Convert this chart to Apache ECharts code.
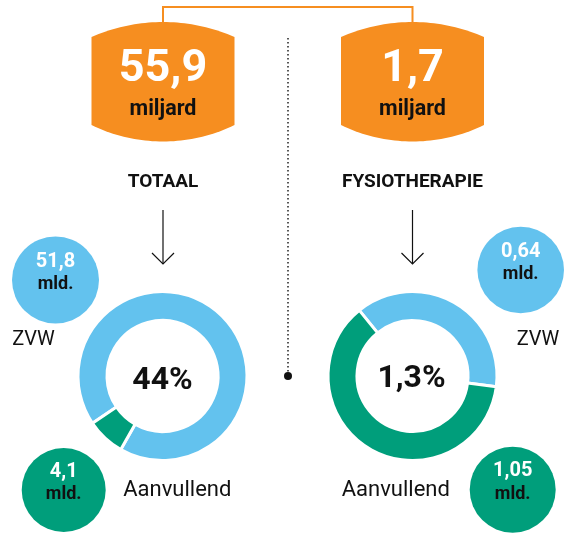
<!DOCTYPE html>
<html>
<head>
<meta charset="utf-8">
<script src="https://cdn.jsdelivr.net/npm/echarts@6/dist/echarts.min.js"></script>
<style>
html,body{margin:0;padding:0;background:#fff;}
#chart{width:565px;height:541px;}
</style>
</head>
<body>
<div id="chart"></div>
<script>
// ---- data ----
const categories = ['ZVW', 'Aanvullend'];
const totalValues = [51.8, 4.1];
const fysioValues = [0.64, 1.05];
const headlineValues = ['55,9', '1,7'];
const headlineUnit = 'miljard';
const titles = ['TOTAAL', 'FYSIOTHERAPIE'];
const centerPercent = ['44%', '1,3%'];
const bubbleLabels = [['51,8', '4,1'], ['0,64', '1,05']];
const bubbleUnit = 'mld.';

// ---- style ----
const BLUE = '#63C2EE';
const GREEN = '#009E7B';
const ORANGE = '#F68E20';
const INK = '#111111';
const FONT = 'Roboto, "Noto Sans", sans-serif';

const chart = echarts.init(document.getElementById('chart'), null, {renderer: 'canvas'});

const colX = [163, 412.5];
const pieY = 376;

function boxPoints(cx) {
  const hw = 71.5, topC = 37, topA = 22, botC = 125, botA = 141.5;
  const pts = [];
  const sT = topC - topA, RT = (hw * hw + sT * sT) / (2 * sT);
  const sB = botA - botC, RB = (hw * hw + sB * sB) / (2 * sB);
  const N = 40;
  for (let i = 0; i <= N; i++) {
    const x = -hw + 2 * hw * i / N;
    const y = topA + (RT - Math.sqrt(RT * RT - x * x));
    pts.push([cx + x, y]);
  }
  for (let i = 0; i <= N; i++) {
    const x = hw - 2 * hw * i / N;
    const y = botA - (RB - Math.sqrt(RB * RB - x * x));
    pts.push([cx + x, y]);
  }
  return pts;
}

function txt(text, x, y, size, weight, fill) {
  return {
    type: 'text', silent: true, z: 10,
    style: {
      text: text, x: x, y: y, fill: fill,
      font: weight + ' ' + size + 'px ' + FONT,
      textAlign: 'center', textVerticalAlign: 'middle', verticalAlign: 'middle'
    }
  };
}

const graphics = [];
// connector
graphics.push({
  type: 'polyline', silent: true,
  shape: {points: [[colX[0], 24], [colX[0], 7], [colX[1], 7], [colX[1], 24]]},
  style: {stroke: ORANGE, lineWidth: 2, fill: null}
});
// dotted divider
graphics.push({
  type: 'line', silent: true,
  shape: {x1: 288, y1: 38, x2: 288, y2: 372},
  style: {stroke: INK, lineWidth: 1.4, lineDash: [1.4, 2.6]}
});
graphics.push({type: 'circle', silent: true, shape: {cx: 288, cy: 376, r: 4}, style: {fill: INK}});

for (let k = 0; k < 2; k++) {
  const cx = colX[k];
  graphics.push({type: 'polygon', silent: true, shape: {points: boxPoints(cx)}, style: {fill: ORANGE}});
  graphics.push(txt(headlineValues[k], cx, 70, 45, 'bold', '#ffffff'));
  graphics.push(txt(headlineUnit, cx, 109.5, 21.5, 'bold', INK));
  graphics.push(txt(titles[k], cx, 182, 19, 'bold', INK));
  // arrow
  graphics.push({type: 'line', silent: true, shape: {x1: cx, y1: 210, x2: cx, y2: 264}, style: {stroke: INK, lineWidth: 1.2}});
  graphics.push({type: 'polyline', silent: true, shape: {points: [[cx - 11, 253], [cx, 264], [cx + 11, 253]]}, style: {stroke: INK, lineWidth: 1.2, fill: null}});
  graphics.push(txt(centerPercent[k], k === 0 ? 162.5 : 411.5, k === 0 ? 380.5 : 378.5, 32, 'bold', INK));
}

// bubbles
const bubbles = [
  {cx: 55.5, cy: 280, r: 43.5, color: BLUE, label: bubbleLabels[0][0]},
  {cx: 63.7, cy: 490, r: 42, color: GREEN, label: bubbleLabels[0][1]},
  {cx: 520.7, cy: 270, r: 43.3, color: BLUE, label: bubbleLabels[1][0]},
  {cx: 512.7, cy: 489.7, r: 43, color: GREEN, label: bubbleLabels[1][1]}
];
bubbles.forEach(b => {
  graphics.push({type: 'circle', silent: true, shape: {cx: b.cx, cy: b.cy, r: b.r}, style: {fill: b.color}});
  graphics.push(txt(b.label, b.cx, b.cy - 18.5, 20, 'bold', '#ffffff'));
  graphics.push(txt(bubbleUnit, b.cx, b.cy + 4.5, 18, 'bold', INK));
});

// category labels
graphics.push(txt(categories[0], 33.5, 339.5, 20, 'normal', INK));
graphics.push(txt(categories[1], 177.3, 490.5, 22, 'normal', INK));
graphics.push(txt(categories[0], 538, 339.5, 20, 'normal', INK));
graphics.push(txt(categories[1], 395.8, 490.5, 22, 'normal', INK));

function pieSeries(values, cx, startAngle) {
  return {
    type: 'pie',
    center: [cx, pieY],
    radius: [55.5, 84.5],
    startAngle: startAngle,
    clockwise: true,
    silent: true,
    animation: false,
    label: {show: false},
    labelLine: {show: false},
    emphasis: {disabled: true},
    itemStyle: {borderColor: '#ffffff', borderWidth: 3},
    data: categories.map((c, i) => ({name: c, value: values[i], itemStyle: {color: i === 0 ? BLUE : GREEN}}))
  };
}

chart.setOption({
  backgroundColor: '#ffffff',
  animation: false,
  series: [
    pieSeries(totalValues, 162.5, 214),
    pieSeries(fysioValues, 412.5, 129)
  ],
  graphic: {elements: graphics}
});
</script>
</body>
</html>
